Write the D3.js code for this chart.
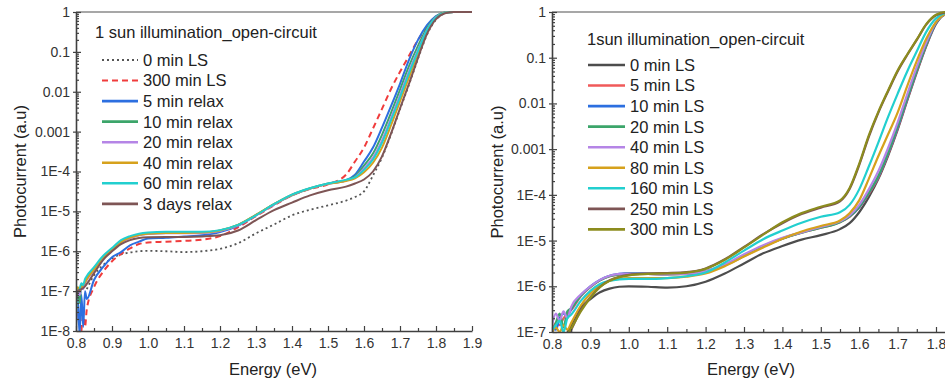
<!DOCTYPE html>
<html>
<head>
<meta charset="utf-8">
<script src="https://cdn.jsdelivr.net/npm/d3@7"></script>
<style>
  body { margin: 0; background: #fff; }
  svg text { font-family: "Liberation Sans", Arial, sans-serif; }
</style>
</head>
<body>
<div id="chart"></div>
<script>
// ---- data (log10 of photocurrent, a.u.) ----

// left panel: light soaking then relaxation
const energyLeft = [0.800, 0.805, 0.810, 0.815, 0.820, 0.825, 0.830, 0.850, 0.875, 0.900, 0.925, 0.950, 0.975,
  1.000, 1.050, 1.100, 1.150, 1.200, 1.250, 1.300, 1.350, 1.400, 1.450, 1.500, 1.550, 1.575, 1.600, 1.625,
  1.650, 1.675, 1.700, 1.725, 1.750, 1.775, 1.800, 1.825, 1.850, 1.900];
const left0LS = [null, null, null, null, null, null, -6.95, -6.60, -6.35, -6.18, -6.08, -6.03, -6.00, -5.99, -6.00,
  -6.02, -6.00, -5.94, -5.80, -5.55, -5.33, -5.10, -4.96, -4.85, -4.73, -4.64, -4.50, -4.10, -3.65, -3.07, -2.44,
  -1.82, -1.17, -0.57, -0.19, -0.03, 0, 0];
const left300LS = [null, null, null, -8.0, -7.6, -7.9, -7.45, -6.90, -6.52, -6.25, -6.07, -5.93, -5.82, -5.78, -5.76,
  -5.74, -5.71, -5.62, -5.40, -5.12, -4.85, -4.60, -4.44, -4.32, -4.08, -3.75, -3.40, -2.92, -2.43, -1.93, -1.50,
  -1.10, -0.70, -0.37, -0.13, -0.02, 0, 0];
const left5relax = [-8.0, -7.2, -8.1, -7.1, -7.9, -7.0, -7.2, -6.72, -6.40, -6.15, -6.02, -5.85, -5.76, -5.68, -5.66,
  -5.63, -5.60, -5.52, -5.36, -5.10, -4.83, -4.60, -4.43, -4.31, -4.22, -4.08, -3.75, -3.40, -2.90, -2.36, -1.80,
  -1.20, -0.70, -0.33, -0.10, -0.01, 0, 0];
const left10relax = [-7.5, -6.9, -7.3, -6.85, -6.9, -6.75, -6.68, -6.45, -6.15, -5.95, -5.76, -5.65, -5.59, -5.56, -5.54,
  -5.54, -5.53, -5.48, -5.34, -5.09, -4.82, -4.58, -4.42, -4.30, -4.22, -4.12, -3.85, -3.55, -3.08, -2.53, -1.95,
  -1.36, -0.85, -0.40, -0.12, -0.01, 0, 0];
const left20relax = [-7.8, -7.0, -7.1, -6.9, -6.95, -6.8, -6.72, -6.48, -6.18, -5.98, -5.78, -5.67, -5.60, -5.57, -5.55,
  -5.55, -5.54, -5.49, -5.35, -5.10, -4.83, -4.59, -4.43, -4.31, -4.23, -4.15, -3.92, -3.65, -3.22, -2.66, -2.08,
  -1.48, -0.95, -0.45, -0.13, -0.02, 0, 0];
const left40relax = [-7.4, -6.9, -7.0, -6.9, -6.85, -6.78, -6.70, -6.46, -6.16, -5.96, -5.77, -5.66, -5.59, -5.56, -5.54,
  -5.54, -5.53, -5.48, -5.34, -5.09, -4.82, -4.59, -4.43, -4.31, -4.24, -4.17, -4.02, -3.78, -3.40, -2.84, -2.24,
  -1.64, -1.04, -0.50, -0.15, -0.02, 0, 0];
const left60relax = [-7.6, -7.0, -6.95, -6.8, -6.85, -6.7, -6.62, -6.40, -6.12, -5.92, -5.72, -5.62, -5.56, -5.53, -5.51,
  -5.51, -5.51, -5.47, -5.34, -5.10, -4.82, -4.58, -4.42, -4.30, -4.21, -4.15, -3.96, -3.70, -3.28, -2.72, -2.14,
  -1.54, -0.98, -0.46, -0.14, -0.02, 0, 0];
const left3days = [-7.3, -7.0, -6.97, -6.95, -6.92, -6.88, -6.82, -6.55, -6.22, -6.00, -5.82, -5.72, -5.67, -5.65, -5.64,
  -5.64, -5.63, -5.60, -5.48, -5.22, -4.97, -4.78, -4.60, -4.47, -4.38, -4.30, -4.20, -4.00, -3.62, -3.05, -2.42,
  -1.80, -1.15, -0.55, -0.18, -0.03, 0, 0];

// right panel: light soaking time series
const energyRight = [0.800, 0.810, 0.820, 0.830, 0.840, 0.850, 0.875, 0.900, 0.925, 0.950, 0.975, 1.000, 1.050,
  1.100, 1.150, 1.200, 1.250, 1.300, 1.350, 1.400, 1.450, 1.500, 1.550, 1.575, 1.600, 1.625, 1.650, 1.675,
  1.700, 1.725, 1.750, 1.775, 1.800, 1.825, 1.850, 1.900];
const right0LS = [null, null, null, null, -7.0, -6.85, -6.47, -6.28, -6.13, -6.05, -6.01, -6.00, -6.01, -6.03, -6.00,
  -5.90, -5.72, -5.50, -5.28, -5.12, -4.98, -4.88, -4.75, -4.62, -4.38, -4.05, -3.65, -3.15, -2.58, -1.94, -1.32,
  -0.74, -0.26, -0.05, -0.01, 0];
const right5LS = [-7.0, -6.8, -6.85, -6.7, -6.6, -6.52, -6.22, -6.02, -5.87, -5.78, -5.74, -5.72, -5.73, -5.74, -5.73,
  -5.68, -5.54, -5.34, -5.13, -4.96, -4.83, -4.72, -4.60, -4.48, -4.28, -3.98, -3.62, -3.12, -2.55, -1.92, -1.30,
  -0.72, -0.24, -0.04, 0, 0];
const right10LS = [-6.9, -6.95, -6.7, -6.6, -6.65, -6.5, -6.20, -6.00, -5.86, -5.77, -5.73, -5.71, -5.72, -5.73, -5.72,
  -5.67, -5.53, -5.33, -5.12, -4.95, -4.82, -4.71, -4.59, -4.47, -4.27, -3.96, -3.60, -3.10, -2.53, -1.90, -1.28,
  -0.71, -0.24, -0.04, 0, 0];
const right20LS = [-7.0, -6.8, -6.6, -6.9, -6.55, -6.48, -6.20, -6.01, -5.87, -5.78, -5.74, -5.72, -5.73, -5.74, -5.73,
  -5.68, -5.54, -5.34, -5.13, -4.96, -4.83, -4.72, -4.60, -4.47, -4.26, -3.95, -3.58, -3.08, -2.50, -1.88, -1.27,
  -0.70, -0.23, -0.04, 0, 0];
const right40LS = [-6.85, -6.6, -6.75, -6.55, -6.7, -6.45, -6.18, -6.00, -5.86, -5.77, -5.73, -5.72, -5.73, -5.74, -5.73,
  -5.67, -5.52, -5.30, -5.10, -4.94, -4.82, -4.70, -4.58, -4.45, -4.22, -3.88, -3.48, -2.98, -2.42, -1.80, -1.20,
  -0.66, -0.22, -0.04, 0, 0];
const right80LS = [-7.0, -6.9, -7.0, -6.85, -6.95, -6.80, -6.42, -6.16, -5.98, -5.88, -5.84, -5.82, -5.82, -5.82, -5.79,
  -5.72, -5.56, -5.35, -5.15, -4.96, -4.80, -4.68, -4.56, -4.40, -4.12, -3.65, -3.15, -2.68, -2.20, -1.62, -1.07,
  -0.58, -0.22, -0.04, 0, 0];
const right160LS = [-6.95, -6.85, -6.75, -7.0, -6.7, -6.62, -6.32, -6.10, -5.95, -5.88, -5.85, -5.84, -5.84, -5.82, -5.78,
  -5.70, -5.48, -5.22, -4.97, -4.78, -4.61, -4.48, -4.38, -4.22, -3.88, -3.38, -2.85, -2.30, -1.79, -1.30, -0.86,
  -0.43, -0.14, -0.02, 0, 0];
const right250LS = [null, null, null, null, -7.1, -6.95, -6.52, -6.24, -6.01, -5.87, -5.79, -5.75, -5.72, -5.71, -5.69,
  -5.61, -5.41, -5.14, -4.86, -4.62, -4.42, -4.28, -4.14, -3.87, -3.35, -2.73, -2.20, -1.74, -1.30, -0.94, -0.61,
  -0.27, -0.07, -0.01, 0, 0];
const right300LS = [null, null, null, null, -7.05, -6.92, -6.55, -6.25, -6.02, -5.88, -5.80, -5.76, -5.73, -5.72, -5.70,
  -5.62, -5.42, -5.15, -4.87, -4.60, -4.40, -4.26, -4.12, -3.85, -3.32, -2.70, -2.18, -1.72, -1.28, -0.93, -0.60,
  -0.26, -0.06, 0, 0, 0];

// ticks and labels
const xTicks = [0.8, 0.9, 1.0, 1.1, 1.2, 1.3, 1.4, 1.5, 1.6, 1.7, 1.8, 1.9];
const xMinorTicks = [0.85, 0.95, 1.05, 1.15, 1.25, 1.35, 1.45, 1.55, 1.65, 1.75, 1.85];
const yTicksLeft = [1, 0.1, 0.01, 0.001, 1e-4, 1e-5, 1e-6, 1e-7, 1e-8];
const yLabelsLeft = ['1', '0.1', '0.01', '0.001', '1E-4', '1E-5', '1E-6', '1E-7', '1E-8'];
const yTicksRight = [1, 0.1, 0.01, 0.001, 1e-4, 1e-5, 1e-6, 1e-7];
const yLabelsRight = ['1', '0.1', '0.01', '0.001', '1E-4', '1E-5', '1E-6', '1E-7'];

const leftSeries = [
  { name: '0 min LS', values: left0LS, color: '#555555', dash: '2,3', width: 1.8 },
  { name: '300 min LS', values: left300LS, color: '#f03c3c', dash: '6,4', width: 2 },
  { name: '5 min relax', values: left5relax, color: '#2c6fe0' },
  { name: '10 min relax', values: left10relax, color: '#3ca56a' },
  { name: '20 min relax', values: left20relax, color: '#b585e6' },
  { name: '40 min relax', values: left40relax, color: '#d6a11c' },
  { name: '60 min relax', values: left60relax, color: '#22cfcf' },
  { name: '3 days relax', values: left3days, color: '#7e5555' },
];

const rightSeries = [
  { name: '0 min LS', values: right0LS, color: '#4d4d4d' },
  { name: '5 min LS', values: right5LS, color: '#f05a5a' },
  { name: '10 min LS', values: right10LS, color: '#2c6fe0' },
  { name: '20 min LS', values: right20LS, color: '#3ca56a' },
  { name: '40 min LS', values: right40LS, color: '#b585e6' },
  { name: '80 min LS', values: right80LS, color: '#d6a11c' },
  { name: '160 min LS', values: right160LS, color: '#22cfcf' },
  { name: '250 min LS', values: right250LS, color: '#7e5555' },
  { name: '300 min LS', values: right300LS, color: '#8c8c1e' },
];

const width = 945;
const height = 381;

const svg = d3
  .select('#chart')
  .append('svg')
  .attr('width', width)
  .attr('height', height);

function drawPanel(cfg) {
  const x = d3.scaleLinear([0.8, 1.9], [cfg.x0, cfg.x1]);
  const y = d3.scaleLog([cfg.yTicks[cfg.yTicks.length - 1], 1], [cfg.y1, cfg.y0]);
  const g = svg.append('g');

  // clip curves to the plot box
  g.append('clipPath')
    .attr('id', 'clip-' + cfg.id)
    .append('rect')
    .attr('x', cfg.x0)
    .attr('y', cfg.y0 - 2)
    .attr('width', cfg.x1 - cfg.x0)
    .attr('height', cfg.y1 - cfg.y0 + 2);

  // top frame line
  g.append('line')
    .attr('x1', cfg.x0).attr('x2', cfg.x1)
    .attr('y1', cfg.y0).attr('y2', cfg.y0)
    .attr('stroke', '#8a8a8a').attr('stroke-width', 1.5);

  const line = d3
    .line()
    .defined((d) => d[1] !== null)
    .x((d) => x(d[0]))
    .y((d) => y(Math.pow(10, d[1])))
    .curve(d3.curveMonotoneX);

  cfg.series.forEach((s) => {
    const pts = cfg.energy.map((e, i) => [e, s.values[i]]);
    g.append('path')
      .attr('clip-path', `url(#clip-${cfg.id})`)
      .attr('d', line(pts))
      .attr('fill', 'none')
      .attr('stroke', s.color)
      .attr('stroke-width', s.width || cfg.lineWidth)
      .attr('stroke-dasharray', s.dash || null)
      .attr('stroke-linejoin', 'round');
  });

  // x axis, ticks pointing inward
  const gX = g
    .append('g')
    .attr('transform', `translate(0,${cfg.y1})`)
    .call(d3.axisBottom(x).tickValues(xTicks).tickFormat(d3.format('.1f')).tickSizeInner(-5).tickSizeOuter(0).tickPadding(7));
  g.append('g')
    .attr('transform', `translate(0,${cfg.y1})`)
    .call(d3.axisBottom(x).tickValues(xMinorTicks).tickFormat('').tickSizeInner(-3).tickSizeOuter(0))
    .call((a) => a.select('.domain').remove());

  // y axis with log minor ticks
  const gY = g
    .append('g')
    .attr('transform', `translate(${cfg.x0},0)`)
    .call(d3.axisLeft(y).tickValues(cfg.yTicks).tickFormat((d, i) => cfg.yLabels[i]).tickSizeInner(-5).tickSizeOuter(0).tickPadding(6));
  const minor = y.ticks().filter((d) => !cfg.yTicks.some((t) => Math.abs(Math.log10(t) - Math.log10(d)) < 1e-6));
  g.append('g')
    .attr('transform', `translate(${cfg.x0},0)`)
    .call(d3.axisLeft(y).tickValues(minor).tickFormat('').tickSizeInner(-3).tickSizeOuter(0))
    .call((a) => a.select('.domain').remove());
  // small outward stub on major y ticks
  gY.selectAll('.tick').append('line').attr('x2', -3).attr('stroke', '#404040');

  g.selectAll('.domain').attr('stroke', '#404040').attr('stroke-width', 1.6);
  g.selectAll('.tick line').attr('stroke', '#404040').attr('stroke-width', 1.2);
  g.selectAll('.tick text').attr('fill', '#333').style('font-size', '14px');

  // axis titles
  g.append('text')
    .attr('transform', `translate(${cfg.yTitleX},${(cfg.y0 + cfg.y1) / 2}) rotate(-90)`)
    .attr('text-anchor', 'middle')
    .attr('dy', '0.35em')
    .attr('fill', '#222')
    .style('font-size', '16.5px')
    .text('Photocurrent (a.u)');
  g.append('text')
    .attr('x', cfg.xTitleX)
    .attr('y', 375)
    .attr('text-anchor', 'middle')
    .attr('fill', '#222')
    .style('font-size', '16.5px')
    .text('Energy (eV)');

  // legend
  const lg = g.append('g');
  lg.append('text')
    .attr('x', cfg.legend.titleX)
    .attr('y', cfg.legend.titleY)
    .attr('fill', '#222')
    .style('font-size', '16.5px')
    .text(cfg.legend.title);
  cfg.series.forEach((s, i) => {
    const cy = cfg.legend.rowY + i * 20.55;
    lg.append('line')
      .attr('x1', cfg.legend.lineX0).attr('x2', cfg.legend.lineX1)
      .attr('y1', cy).attr('y2', cy)
      .attr('stroke', s.color)
      .attr('stroke-width', s.dash ? s.width : 2.6)
      .attr('stroke-dasharray', s.dash || null);
    lg.append('text')
      .attr('x', cfg.legend.textX)
      .attr('y', cy)
      .attr('dy', '0.36em')
      .attr('fill', '#222')
      .style('font-size', '16.5px')
      .text(s.name);
  });
}

drawPanel({
  id: 'left',
  energy: energyLeft,
  series: leftSeries,
  x0: 76, x1: 472, y0: 12, y1: 331,
  yTicks: yTicksLeft, yLabels: yLabelsLeft,
  lineWidth: 2,
  yTitleX: 20, xTitleX: 273,
  legend: { title: '1 sun illumination_open-circuit', titleX: 95, titleY: 38, rowY: 60, lineX0: 102, lineX1: 138, textX: 143 },
});

drawPanel({
  id: 'right',
  energy: energyRight,
  series: rightSeries,
  x0: 552, x1: 974.4, y0: 12, y1: 332,
  yTicks: yTicksRight, yLabels: yLabelsRight,
  lineWidth: 2.2,
  yTitleX: 497, xTitleX: 751,
  legend: { title: '1sun illumination_open-circuit', titleX: 587, titleY: 45, rowY: 65, lineX0: 588, lineX1: 625, textX: 630 },
});
</script>
</body>
</html>
